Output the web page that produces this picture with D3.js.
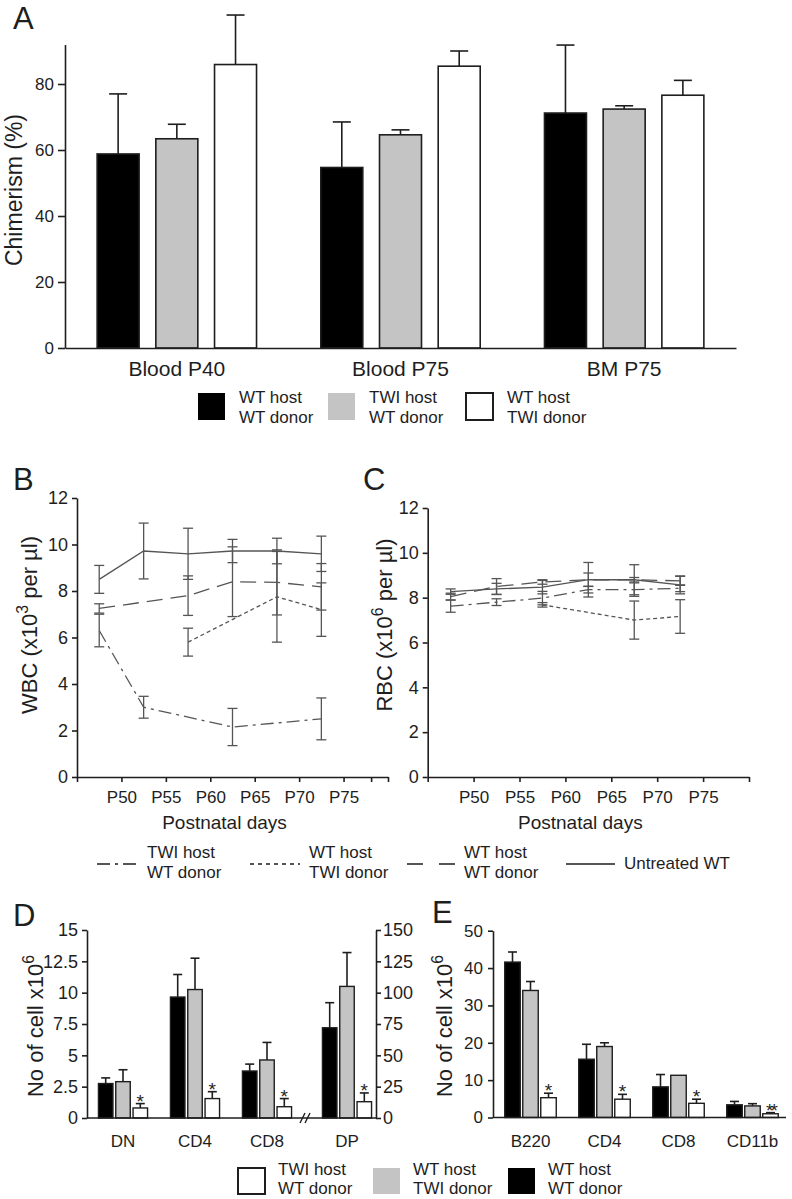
<!DOCTYPE html>
<html>
<head>
<meta charset="utf-8">
<script src="https://cdn.jsdelivr.net/npm/d3@7"></script>
<style>
  body { margin: 0; background: #fff; }
  svg { display: block; font-family: "Liberation Sans", Arial, sans-serif; }
  text { fill: #1e1e1e; }
</style>
</head>
<body>
<svg id="fig" width="792" height="1199"></svg>
<script>
// ---- Panel A: chimerism ----
const groupsA = ['Blood P40', 'Blood P75', 'BM P75'];
const namesA = [['WT host', 'WT donor'], ['TWI host', 'WT donor'], ['WT host', 'TWI donor']];
const chimWtWt = [58.8, 54.7, 71.2];
const chimWtWtErr = [18.2, 13.8, 20.6];
const chimTwiWt = [63.4, 64.6, 72.4];
const chimTwiWtErr = [4.4, 1.5, 1.0];
const chimWtTwi = [85.9, 85.4, 76.6];
const chimWtTwiErr = [15.0, 4.6, 4.5];
const ticksA = [0, 20, 40, 60, 80];

// ---- Panels B and C: blood counts over time ----
const sampleDays = [47.5, 52.5, 57.5, 62.5, 67.5, 72.5];
const dayTicks = [50, 55, 60, 65, 70, 75];
const dayLabels = ['P50', 'P55', 'P60', 'P65', 'P70', 'P75'];
const countTicks = [0, 2, 4, 6, 8, 10, 12];

const wbcTwiWt = [6.3, 3.0, null, 2.15, null, 2.5];
const wbcTwiWtErr = [0.7, 0.47, null, 0.8, null, 0.9];
const wbcWtTwi = [null, null, 5.8, null, 7.75, 7.2];
const wbcWtTwiErr = [null, null, 0.6, null, 1.95, 1.15];
const wbcWtWt = [7.25, null, 7.8, 8.4, 8.37, 8.18];
const wbcWtWtErr = [0.2, null, 0.85, 1.5, 1.4, 1.0];
const wbcUntreated = [8.5, 9.72, 9.6, 9.72, 9.72, 9.6];
const wbcUntreatedErr = [0.6, 1.2, 1.1, 0.5, 0.55, 0.76];

const rbcTwiWt = [7.62, 7.8, 7.98, 8.36, 8.36, 8.42];
const rbcTwiWtErr = [0.27, 0.15, 0.3, 0.15, 0.3, 0.15];
const rbcWtTwi = [null, null, 7.68, null, 7.0, 7.16];
const rbcWtTwiErr = [null, null, 0.1, null, 0.85, 0.75];
const rbcWtWt = [8.05, 8.5, 8.7, 8.8, 8.8, 8.75];
const rbcWtWtErr = [0.15, 0.35, 0.1, 0.3, 0.1, 0.2];
const rbcUntreated = [8.27, 8.39, 8.47, 8.8, 8.8, 8.57];
const rbcUntreatedErr = [0.12, 0.25, 0.3, 0.77, 0.67, 0.4];

const lineNames = [['TWI host', 'WT donor'], ['WT host', 'TWI donor'], ['WT host', 'WT donor'], ['Untreated WT']];

// ---- Panel D: thymus cells (DP on right axis) ----
const groupsD = ['DN', 'CD4', 'CD8', 'DP'];
const thyWtWt = [2.75, 9.65, 3.75, 72];
const thyWtWtErr = [0.45, 1.8, 0.55, 20];
const thyWtTwi = [2.9, 10.25, 4.63, 105];
const thyWtTwiErr = [0.95, 2.5, 1.4, 27];
const thyTwiWt = [0.8, 1.55, 0.9, 13];
const thyTwiWtErr = [0.35, 0.55, 0.65, 7];
const ticksD = [0, 2.5, 5, 7.5, 10, 12.5, 15];
const ticksD2 = [0, 25, 50, 75, 100, 125, 150];

// ---- Panel E: spleen cells ----
const groupsE = ['B220', 'CD4', 'CD8', 'CD11b'];
const splWtWt = [41.6, 15.6, 8.2, 3.4];
const splWtWtErr = [2.7, 4.0, 3.3, 0.9];
const splWtTwi = [34.0, 19.0, 11.3, 3.1];
const splWtTwiErr = [2.4, 1.0, 0, 0.6];
const splTwiWt = [5.3, 4.9, 3.8, 1.0];
const splTwiWtErr = [1.2, 1.3, 1.1, 0.3];
const starsE = ['*', '*', '*', '**'];
const ticksE = [0, 10, 20, 30, 40, 50];
const namesDE = [['TWI host', 'WT donor'], ['WT host', 'TWI donor'], ['WT host', 'WT donor']];

const BLACK = '#000', GRAY = '#c4c4c4', WHITE = '#fff', INK = '#1e1e1e', LINE = '#555';

const svg = d3.select('#fig');

function styleAxis(g, fs) {
  g.attr('font-family', null).attr('font-size', fs);
  g.selectAll('path, line').attr('stroke', INK).attr('stroke-width', 1.6);
  g.selectAll('text').attr('fill', INK);
}

function panelLetter(x, y, t) {
  svg.append('text').attr('x', x).attr('y', y).attr('font-size', 31).text(t);
}

function rotLabel(x, y, pre, sup, post, fs) {
  const t = svg.append('text')
      .attr('transform', `translate(${x},${y}) rotate(-90)`)
      .attr('text-anchor', 'middle').attr('font-size', fs);
  t.append('tspan').text(pre);
  if (sup) {
    t.append('tspan').attr('dy', -fs * 0.4).attr('font-size', fs * 0.72).text(sup);
    t.append('tspan').attr('dy', fs * 0.4).text(post);
  }
}

function errBar(g, x, y0, y1, cap, color, w) {
  g.append('line').attr('x1', x).attr('x2', x).attr('y1', y0).attr('y2', y1)
      .attr('stroke', color).attr('stroke-width', w);
  g.append('line').attr('x1', x - cap / 2).attr('x2', x + cap / 2).attr('y1', y1).attr('y2', y1)
      .attr('stroke', color).attr('stroke-width', w);
}

// ================= A =================
const xA = d3.scaleBand().domain(groupsA).range([65, 736]);
const subA = d3.scalePoint().domain([0, 1, 2]).range([-58.7, 58.7]);
const yA = d3.scaleLinear().domain([0, 92]).range([348, 44.4]);
const gA = svg.append('g');

const seriesA = [
  {vals: chimWtWt, errs: chimWtWtErr, fill: BLACK},
  {vals: chimTwiWt, errs: chimTwiWtErr, fill: GRAY},
  {vals: chimWtTwi, errs: chimWtTwiErr, fill: WHITE}
];
seriesA.forEach((s, si) => {
  groupsA.forEach((grp, gi) => {
    const cx = xA(grp) + xA.bandwidth() / 2 + subA(si);
    errBar(gA, cx, yA(s.vals[gi]), yA(s.vals[gi] + s.errs[gi]), 18, INK, 1.6);
    gA.append('rect').attr('x', cx - 21).attr('width', 42)
        .attr('y', yA(s.vals[gi])).attr('height', yA(0) - yA(s.vals[gi]))
        .attr('fill', s.fill).attr('stroke', INK).attr('stroke-width', 1.6);
  });
});

gA.append('g').attr('transform', 'translate(65,0)')
    .call(d3.axisLeft(yA).tickValues(ticksA).tickSize(7).tickSizeOuter(0).tickPadding(4))
    .call(g => styleAxis(g, 17));
gA.append('g').attr('transform', 'translate(0,348)')
    .call(d3.axisBottom(xA).tickSize(0).tickSizeOuter(0).tickPadding(13))
    .call(g => styleAxis(g, 21));
rotLabel(22, 190, 'Chimerism (%)', null, null, 23);
panelLetter(13, 29, 'A');

// legend A
const legA = [
  {x: 198, fill: BLACK, stroke: 'none'},
  {x: 328, fill: GRAY, stroke: 'none'},
  {x: 466, fill: WHITE, stroke: INK}
];
legA.forEach((d, i) => {
  svg.append('rect').attr('x', d.x).attr('y', 393).attr('width', 27).attr('height', 27)
      .attr('fill', d.fill).attr('stroke', d.stroke).attr('stroke-width', 2);
  namesA[i].forEach((ln, li) => {
    svg.append('text').attr('x', d.x + 41).attr('y', 403 + li * 19.5).attr('font-size', 17).text(ln);
  });
});

// ================= B and C =================
const dashes = ['13,5,3,5', '4,3', '16,8', null];

function timePanel(x0, x1, y12, series, extraTicks) {
  const x = d3.scaleLinear().domain([45, 80]).range([x0, x1]);
  const y = d3.scaleLinear().domain([0, 12]).range([777, y12]);
  const g = svg.append('g');
  series.forEach((s, si) => {
    const pts = sampleDays.map((d, i) => ({d: d, v: s.vals[i], e: s.errs[i]})).filter(p => p.v != null);
    g.append('path').datum(pts)
        .attr('d', d3.line().x(p => x(p.d)).y(p => y(p.v)))
        .attr('fill', 'none').attr('stroke', LINE).attr('stroke-width', 1.3)
        .attr('stroke-dasharray', dashes[si]);
    pts.forEach(p => {
      if (!p.e) return;
      g.append('line').attr('x1', x(p.d)).attr('x2', x(p.d))
          .attr('y1', y(p.v - p.e)).attr('y2', y(p.v + p.e))
          .attr('stroke', LINE).attr('stroke-width', 1.3);
      [p.v - p.e, p.v + p.e].forEach(v => {
        g.append('line').attr('x1', x(p.d) - 5).attr('x2', x(p.d) + 5)
            .attr('y1', y(v)).attr('y2', y(v)).attr('stroke', LINE).attr('stroke-width', 1.3);
      });
    });
  });
  const tv = [45].concat(dayTicks, extraTicks, [80]);
  g.append('g').attr('transform', 'translate(0,777)')
      .call(d3.axisBottom(x).tickValues(tv).tickSize(5).tickSizeOuter(0).tickPadding(9)
          .tickFormat(d => dayLabels[dayTicks.indexOf(d)] || ''))
      .call(gg => styleAxis(gg, 17));
  g.append('g').attr('transform', `translate(${x0},0)`)
      .call(d3.axisLeft(y).tickValues(countTicks).tickSize(5).tickSizeOuter(0).tickPadding(4))
      .call(gg => styleAxis(gg, 18));
  g.append('text').attr('x', (x0 + x1) / 2 - 8).attr('y', 829).attr('text-anchor', 'middle')
      .attr('font-size', 19).text('Postnatal days');
}

timePanel(77, 388, 498, [
  {vals: wbcTwiWt, errs: wbcTwiWtErr},
  {vals: wbcWtTwi, errs: wbcWtTwiErr},
  {vals: wbcWtWt, errs: wbcWtWtErr},
  {vals: wbcUntreated, errs: wbcUntreatedErr}
], [78.1]);
timePanel(427.7, 749, 508, [
  {vals: rbcTwiWt, errs: rbcTwiWtErr},
  {vals: rbcWtTwi, errs: rbcWtTwiErr},
  {vals: rbcWtWt, errs: rbcWtWtErr},
  {vals: rbcUntreated, errs: rbcUntreatedErr}
], []);

rotLabel(37, 625, 'WBC (x10', '3', ' per µl)', 22);
rotLabel(392, 625, 'RBC (x10', '6', ' per µl)', 22);
panelLetter(13, 490, 'B');
panelLetter(363, 490, 'C');

// legend B/C
const legLine = [
  {x1: 97, x2: 138, dash: '13,5,3,5'},
  {x1: 250, x2: 300, dash: '4,4'},
  {x1: 407, x2: 455, dash: '16,16'},
  {x1: 566, x2: 615, dash: null}
];
legLine.forEach((d, i) => {
  svg.append('line').attr('x1', d.x1).attr('x2', d.x2).attr('y1', 864).attr('y2', 864)
      .attr('stroke', INK).attr('stroke-width', 1.4).attr('stroke-dasharray', d.dash);
  const lines = lineNames[i];
  lines.forEach((ln, li) => {
    svg.append('text').attr('x', d.x2 + 9)
        .attr('y', lines.length === 1 ? 869 : 858 + li * 20)
        .attr('font-size', 17).text(ln);
  });
});

// ================= D =================
const yD = d3.scaleLinear().domain([0, 15]).range([1118, 930]);
const yD2 = d3.scaleLinear().domain([0, 150]).range([1118, 930]);
const xD = d3.scalePoint().domain(groupsD).range([123, 339]);
const gD = svg.append('g');
const cxD = grp => xD(grp) + (grp === 'DP' ? 8 : 0);

function barSet(g, groups, xc, yFor, series, off, w, cap, stars) {
  series.forEach((s, si) => {
    groups.forEach((grp, gi) => {
      const y = yFor(grp);
      const cx = xc(grp) + (si - 1) * off;
      const v = s.vals[gi], e = s.errs[gi];
      if (e > 0) errBar(g, cx, y(v), y(v + e), cap, INK, 1.6);
      g.append('rect').attr('x', cx - w / 2).attr('width', w)
          .attr('y', y(v)).attr('height', y(0) - y(v))
          .attr('fill', s.fill).attr('stroke', INK).attr('stroke-width', 1.4);
      if (s.fill === WHITE) {
        g.append('text').attr('x', cx).attr('y', y(v + e) + 4).attr('text-anchor', 'middle')
            .attr('font-size', 19).attr('letter-spacing', stars[gi].length > 1 ? -3 : 0)
            .text(stars[gi]);
      }
    });
  });
}

barSet(gD, groupsD, cxD, grp => (grp === 'DP' ? yD2 : yD), [
  {vals: thyWtWt, errs: thyWtWtErr, fill: BLACK},
  {vals: thyWtTwi, errs: thyWtTwiErr, fill: GRAY},
  {vals: thyTwiWt, errs: thyTwiWtErr, fill: WHITE}
], 17.3, 14.5, 9, ['*', '*', '*', '*']);

gD.append('g').attr('transform', 'translate(87,0)')
    .call(d3.axisLeft(yD).tickValues(ticksD).tickFormat(d => d).tickSize(5).tickSizeOuter(0).tickPadding(4))
    .call(g => styleAxis(g, 18));
gD.append('g').attr('transform', 'translate(376,0)')
    .call(d3.axisRight(yD2).tickValues(ticksD2).tickFormat(d => d).tickSize(5).tickSizeOuter(0).tickPadding(2))
    .call(g => styleAxis(g, 18));
gD.append('line').attr('x1', 87).attr('x2', 376).attr('y1', 1118).attr('y2', 1118)
    .attr('stroke', INK).attr('stroke-width', 1.6);
[302, 307].forEach(bx => {
  gD.append('line').attr('x1', bx - 2).attr('x2', bx + 3).attr('y1', 1123).attr('y2', 1113)
      .attr('stroke', INK).attr('stroke-width', 1.4);
});
groupsD.forEach(grp => {
  gD.append('text').attr('x', cxD(grp)).attr('y', 1147).attr('text-anchor', 'middle')
      .attr('font-size', 17).text(grp);
});
rotLabel(43, 1026, 'No of cell x10', '6', '', 22);
panelLetter(13, 926, 'D');

// ================= E =================
const yE = d3.scaleLinear().domain([0, 50]).range([1117.5, 930.7]);
const xE = d3.scalePoint().domain(groupsE).range([530.5, 752.5]);
const gE = svg.append('g');
barSet(gE, groupsE, grp => xE(grp), () => yE, [
  {vals: splWtWt, errs: splWtWtErr, fill: BLACK},
  {vals: splWtTwi, errs: splWtTwiErr, fill: GRAY},
  {vals: splTwiWt, errs: splTwiWtErr, fill: WHITE}
], 18, 15.5, 9, starsE);
gE.append('g').attr('transform', 'translate(493,0)')
    .call(d3.axisLeft(yE).tickValues(ticksE).tickSize(5).tickSizeOuter(0).tickPadding(5))
    .call(g => styleAxis(g, 17));
gE.append('line').attr('x1', 493).attr('x2', 786).attr('y1', 1117.5).attr('y2', 1117.5)
    .attr('stroke', INK).attr('stroke-width', 1.6);
groupsE.forEach(grp => {
  gE.append('text').attr('x', xE(grp)).attr('y', 1147).attr('text-anchor', 'middle')
      .attr('font-size', 17).text(grp);
});
rotLabel(452, 1026, 'No of cell x10', '6', '', 22);
panelLetter(432, 923, 'E');

// legend D/E
const legDE = [
  {x: 238, fill: WHITE, stroke: INK},
  {x: 373, fill: GRAY, stroke: 'none'},
  {x: 508, fill: BLACK, stroke: 'none'}
];
legDE.forEach((d, i) => {
  svg.append('rect').attr('x', d.x).attr('y', 1168).attr('width', 27).attr('height', 26)
      .attr('fill', d.fill).attr('stroke', d.stroke).attr('stroke-width', 2);
  namesDE[i].forEach((ln, li) => {
    svg.append('text').attr('x', d.x + 40).attr('y', 1175 + li * 19).attr('font-size', 17).text(ln);
  });
});
</script>
</body>
</html>
